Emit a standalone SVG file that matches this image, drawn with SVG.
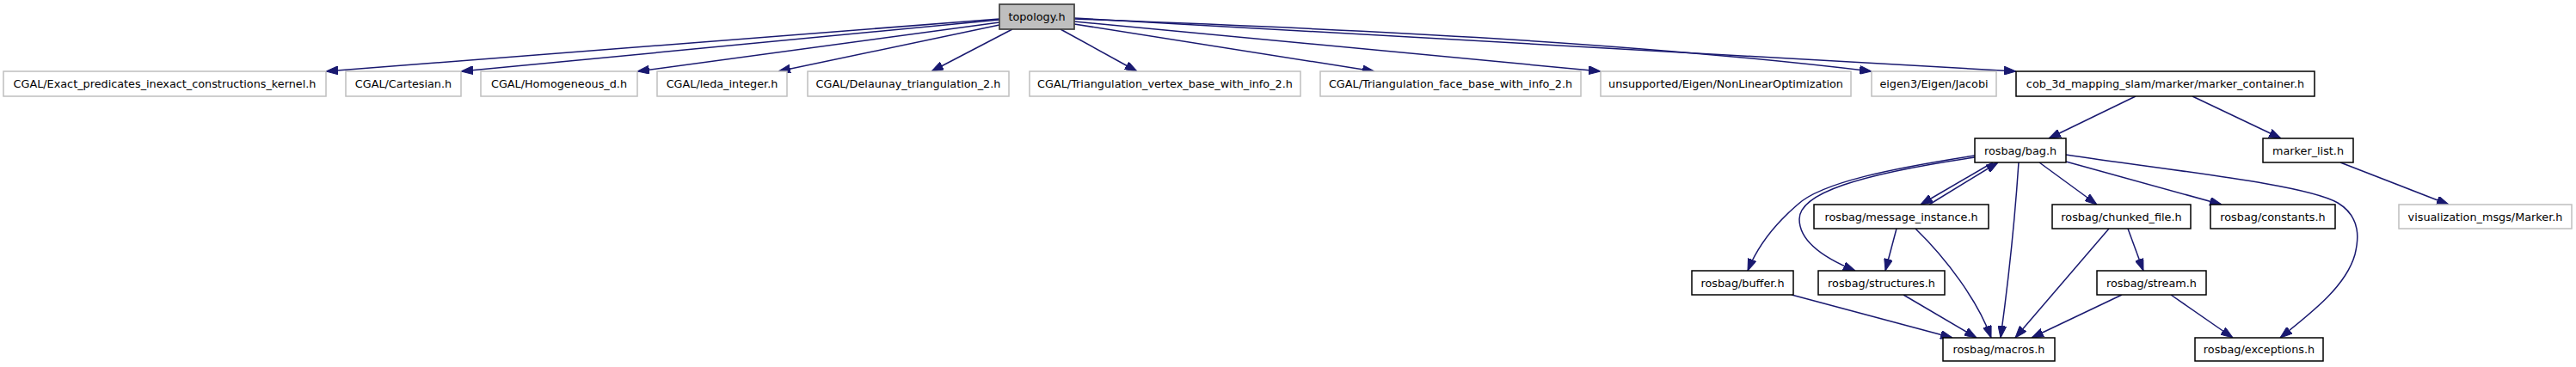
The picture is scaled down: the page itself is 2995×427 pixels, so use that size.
<svg xmlns="http://www.w3.org/2000/svg" width="2995" height="427" viewBox="0 0 2995 427">
<defs>
<marker id="arr" markerUnits="userSpaceOnUse" markerWidth="14" markerHeight="10" viewBox="0 0 14 10" refX="14" refY="5" orient="auto">
<path d="M0,0 L14,5 L0,10 z" fill="#191970" stroke="#191970" stroke-width="1"/>
</marker>
<style>
.e{fill:none;stroke:#191970;stroke-width:1.5;marker-end:url(#arr)}
.nb{fill:#ffffff;stroke:#000000;stroke-width:1.5}
.ng{fill:#ffffff;stroke:#bfbfbf;stroke-width:1.5}
.nt{fill:#bfbfbf;stroke:#404040;stroke-width:1.7}
text{font-family:"DejaVu Sans",sans-serif;font-size:12.8px;fill:#000;text-anchor:middle}
</style>
</defs>
<rect width="2995" height="427" fill="#ffffff"/>
<g id="edges">
<path class="e" d="M1162,22 L379,83"/>
<path class="e" d="M1162,23 L536,83"/>
<path class="e" d="M1162,26 L741,83"/>
<path class="e" d="M1162,29 L905,83"/>
<path class="e" d="M1177,34 L1083,83"/>
<path class="e" d="M1233,34 L1322,83"/>
<path class="e" d="M1249,28 L1598,83"/>
<path class="e" d="M1249,25 L1861,83"/>
<path class="e" d="M1249,22 C1600,35 1900,50 2176,83"/>
<path class="e" d="M1249,21 C1700,45 2100,68 2344,83"/>
<path class="e" d="M2483,112 L2382,161"/>
<path class="e" d="M2549,112 L2652,161"/>
<path class="e" d="M2721,189 L2847,238"/>
<path class="e" d="M2317,189 L2233,238"/>
<path class="e" d="M2243,238 L2323,189"/>
<path class="e" d="M2371,189 L2438,238"/>
<path class="e" d="M2402,188 L2583,238"/>
<path class="e" d="M2402,180 C2520,198 2680,214 2718,236 C2746,253 2742,280 2738,296 C2728,332 2690,362 2651,393"/>
<path class="e" d="M2347,189 C2343,250 2336,320 2326,393"/>
<path class="e" d="M2296,181 C2200,196 2118,212 2090,238 C2062,262 2042,290 2032,315"/>
<path class="e" d="M2296,183 C2160,203 2092,225 2092,255 C2092,282 2125,302 2157,315"/>
<path class="e" d="M2205,266 L2192,315"/>
<path class="e" d="M2227,266 C2262,300 2300,350 2315,393"/>
<path class="e" d="M2213,343 L2298,393"/>
<path class="e" d="M2083,343 L2270,393"/>
<path class="e" d="M2452,266 L2343,393"/>
<path class="e" d="M2474,266 L2492,315"/>
<path class="e" d="M2467,343 L2362,393"/>
<path class="e" d="M2524,343 L2596,393"/>
</g>
<g id="n_topology"><rect class="nt" x="1162" y="5" width="87" height="29"/><text x="1205.5" y="24">topology.h</text></g>
<g id="n_exact"><rect class="ng" x="4" y="83" width="375" height="29"/><text x="191.5" y="102">CGAL/Exact_predicates_inexact_constructions_kernel.h</text></g>
<g id="n_cartesian"><rect class="ng" x="402" y="83" width="134" height="29"/><text x="469" y="102">CGAL/Cartesian.h</text></g>
<g id="n_homogeneous"><rect class="ng" x="559" y="83" width="182" height="29"/><text x="650" y="102">CGAL/Homogeneous_d.h</text></g>
<g id="n_leda"><rect class="ng" x="764" y="83" width="151" height="29"/><text x="839.5" y="102">CGAL/leda_integer.h</text></g>
<g id="n_delaunay"><rect class="ng" x="939" y="83" width="234" height="29"/><text x="1056" y="102">CGAL/Delaunay_triangulation_2.h</text></g>
<g id="n_vertex"><rect class="ng" x="1197" y="83" width="315" height="29"/><text x="1354.5" y="102">CGAL/Triangulation_vertex_base_with_info_2.h</text></g>
<g id="n_face"><rect class="ng" x="1535" y="83" width="303" height="29"/><text x="1686.5" y="102">CGAL/Triangulation_face_base_with_info_2.h</text></g>
<g id="n_nlo"><rect class="ng" x="1861" y="83" width="291" height="29"/><text x="2006.5" y="102">unsupported/Eigen/NonLinearOptimization</text></g>
<g id="n_jacobi"><rect class="ng" x="2176" y="83" width="145" height="29"/><text x="2248.5" y="102">eigen3/Eigen/Jacobi</text></g>
<g id="n_container"><rect class="nb" x="2344" y="83" width="347" height="29"/><text x="2517.5" y="102">cob_3d_mapping_slam/marker/marker_container.h</text></g>
<g id="n_bag"><rect class="nb" x="2296" y="161" width="106" height="28"/><text x="2349" y="180">rosbag/bag.h</text></g>
<g id="n_markerlist"><rect class="nb" x="2631" y="161" width="105" height="28"/><text x="2683.5" y="180">marker_list.h</text></g>
<g id="n_msginst"><rect class="nb" x="2109" y="238" width="203" height="28"/><text x="2210.5" y="257">rosbag/message_instance.h</text></g>
<g id="n_chunked"><rect class="nb" x="2386" y="238" width="161" height="28"/><text x="2466.5" y="257">rosbag/chunked_file.h</text></g>
<g id="n_constants"><rect class="nb" x="2570" y="238" width="145" height="28"/><text x="2642.5" y="257">rosbag/constants.h</text></g>
<g id="n_vismarker"><rect class="ng" x="2789" y="238" width="201" height="28"/><text x="2889.5" y="257">visualization_msgs/Marker.h</text></g>
<g id="n_buffer"><rect class="nb" x="1967" y="315" width="118" height="28"/><text x="2026" y="334">rosbag/buffer.h</text></g>
<g id="n_structures"><rect class="nb" x="2114" y="315" width="147" height="28"/><text x="2187.5" y="334">rosbag/structures.h</text></g>
<g id="n_stream"><rect class="nb" x="2438" y="315" width="127" height="28"/><text x="2501.5" y="334">rosbag/stream.h</text></g>
<g id="n_macros"><rect class="nb" x="2259" y="393" width="130" height="27"/><text x="2324" y="411">rosbag/macros.h</text></g>
<g id="n_exceptions"><rect class="nb" x="2552" y="393" width="149" height="27"/><text x="2626.5" y="411">rosbag/exceptions.h</text></g>
</svg>
